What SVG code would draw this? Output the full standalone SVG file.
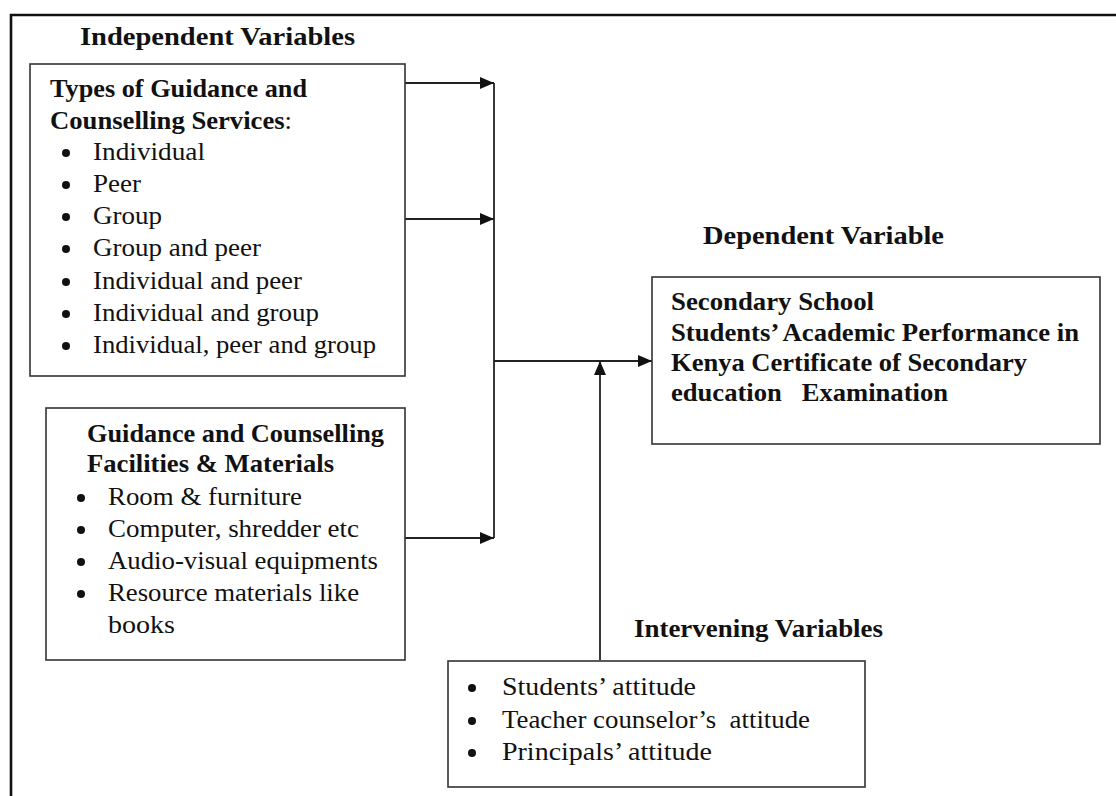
<svg xmlns="http://www.w3.org/2000/svg" width="1116" height="796" viewBox="0 0 1116 796">
<defs>
<style>
.t{font-family:"Liberation Serif","Times New Roman",serif;font-size:25.5px;fill:#111}
.b{font-weight:bold}
.box{fill:#fff;stroke:#333;stroke-width:1.6}
.frame{fill:none;stroke:#111;stroke-width:2.6}
.ln{fill:none;stroke:#222;stroke-width:1.8}
.dot{fill:#111}
</style>
<marker id="ah" viewBox="0 0 14 12" refX="14" refY="6" markerWidth="14" markerHeight="12" markerUnits="userSpaceOnUse" orient="auto">
<path d="M0,0 L14,6 L0,12 Z" fill="#111"/>
</marker>
</defs>
<rect width="1116" height="796" fill="#fff"/>
<path class="frame" d="M11,796 L11,15 L1116,15"/>

<g id="connectors">
<line class="ln" x1="405" y1="83" x2="494" y2="83" marker-end="url(#ah)"/>
<line class="ln" x1="405" y1="219" x2="494" y2="219" marker-end="url(#ah)"/>
<line class="ln" x1="405" y1="538" x2="494" y2="538" marker-end="url(#ah)"/>
<line class="ln" x1="494" y1="83" x2="494" y2="538"/>
<line class="ln" x1="494" y1="361" x2="652" y2="361" marker-end="url(#ah)"/>
<line class="ln" x1="600" y1="660" x2="600" y2="361" marker-end="url(#ah)"/>
</g>

<g id="label-independent">
<text class="t b" x="80" y="45" textLength="275" lengthAdjust="spacingAndGlyphs">Independent Variables</text>
</g>

<g id="node-types">
<rect class="box" x="30" y="64" width="375" height="312"/>
<text class="t b" x="50" y="97" textLength="257" lengthAdjust="spacingAndGlyphs">Types of Guidance and</text>
<text class="t" x="50" y="129" textLength="242" lengthAdjust="spacingAndGlyphs"><tspan class="b">Counselling Services</tspan>:</text>
<circle class="dot" cx="66" cy="153" r="4"/>
<text class="t" x="93" y="160" textLength="112" lengthAdjust="spacingAndGlyphs">Individual</text>
<circle class="dot" cx="66" cy="185" r="4"/>
<text class="t" x="93" y="192" textLength="48" lengthAdjust="spacingAndGlyphs">Peer</text>
<circle class="dot" cx="66" cy="217" r="4"/>
<text class="t" x="93" y="224" textLength="69" lengthAdjust="spacingAndGlyphs">Group</text>
<circle class="dot" cx="66" cy="249" r="4"/>
<text class="t" x="93" y="256" textLength="168" lengthAdjust="spacingAndGlyphs">Group and peer</text>
<circle class="dot" cx="66" cy="282" r="4"/>
<text class="t" x="93" y="289" textLength="209" lengthAdjust="spacingAndGlyphs">Individual and peer</text>
<circle class="dot" cx="66" cy="314" r="4"/>
<text class="t" x="93" y="321" textLength="226" lengthAdjust="spacingAndGlyphs">Individual and group</text>
<circle class="dot" cx="66" cy="346" r="4"/>
<text class="t" x="93" y="353" textLength="283" lengthAdjust="spacingAndGlyphs">Individual, peer and group</text>
</g>

<g id="node-facilities">
<rect class="box" x="46" y="408" width="359" height="252"/>
<text class="t b" x="87" y="442" textLength="297" lengthAdjust="spacingAndGlyphs">Guidance and Counselling</text>
<text class="t b" x="87" y="472" textLength="247" lengthAdjust="spacingAndGlyphs">Facilities &amp; Materials</text>
<circle class="dot" cx="81" cy="498" r="4"/>
<text class="t" x="108" y="505" textLength="194" lengthAdjust="spacingAndGlyphs">Room &amp; furniture</text>
<circle class="dot" cx="81" cy="530" r="4"/>
<text class="t" x="108" y="537" textLength="251" lengthAdjust="spacingAndGlyphs">Computer, shredder etc</text>
<circle class="dot" cx="81" cy="562" r="4"/>
<text class="t" x="108" y="569" textLength="270" lengthAdjust="spacingAndGlyphs">Audio-visual equipments</text>
<circle class="dot" cx="81" cy="594" r="4"/>
<text class="t" x="108" y="601" textLength="251" lengthAdjust="spacingAndGlyphs">Resource materials like</text>
<text class="t" x="108" y="633" textLength="67" lengthAdjust="spacingAndGlyphs">books</text>
</g>

<g id="label-dependent">
<text class="t b" x="703" y="244" textLength="241" lengthAdjust="spacingAndGlyphs">Dependent Variable</text>
</g>

<g id="node-performance">
<rect class="box" x="652" y="277" width="448" height="167"/>
<text class="t b" x="671" y="310" textLength="203" lengthAdjust="spacingAndGlyphs">Secondary School</text>
<text class="t b" x="671" y="341" textLength="408" lengthAdjust="spacingAndGlyphs">Students’ Academic Performance in</text>
<text class="t b" x="671" y="371" textLength="356" lengthAdjust="spacingAndGlyphs">Kenya Certificate of Secondary</text>
<text class="t b" x="671" y="401" textLength="277" lengthAdjust="spacingAndGlyphs" xml:space="preserve">education   Examination</text>
</g>

<g id="label-intervening">
<text class="t b" x="634" y="637" textLength="249" lengthAdjust="spacingAndGlyphs">Intervening Variables</text>
</g>

<g id="node-intervening">
<rect class="box" x="448" y="661" width="417" height="126"/>
<circle class="dot" cx="472" cy="688" r="4"/>
<text class="t" x="502" y="695" textLength="194" lengthAdjust="spacingAndGlyphs">Students’ attitude</text>
<circle class="dot" cx="472" cy="721" r="4"/>
<text class="t" x="502" y="728" textLength="308" lengthAdjust="spacingAndGlyphs" xml:space="preserve">Teacher counselor’s  attitude</text>
<circle class="dot" cx="472" cy="753" r="4"/>
<text class="t" x="502" y="760" textLength="210" lengthAdjust="spacingAndGlyphs">Principals’ attitude</text>
</g>
</svg>
